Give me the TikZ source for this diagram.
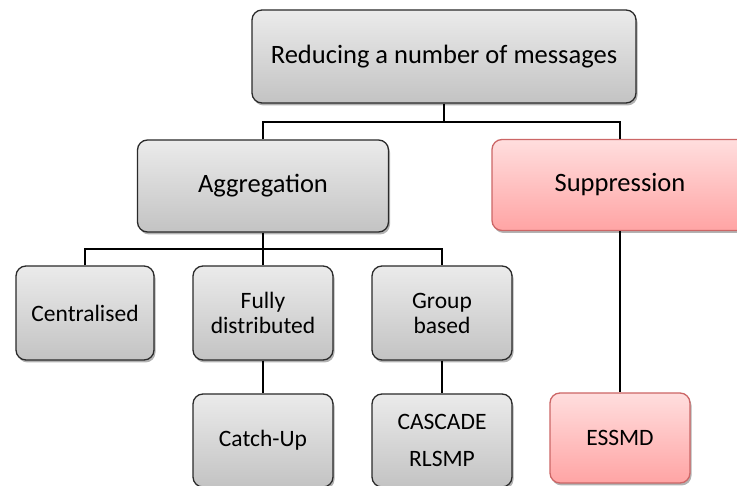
\documentclass[tikz,border=0pt]{standalone}
\usepackage{fontspec}
\setmainfont{Carlito}
\usetikzlibrary{shadows}
\definecolor{greytop}{HTML}{EBEBEB}
\definecolor{greybot}{HTML}{C3C3C3}
\definecolor{greyedge}{HTML}{2A2A2A}
\definecolor{pinktop}{HTML}{FFDEDE}
\definecolor{pinkbot}{HTML}{FFA4A4}
\definecolor{pinkedge}{HTML}{CC6666}
\tikzset{
  box/.style={rectangle, rounded corners=10pt, line width=1.3pt, inner sep=0pt,
    align=center, font=\fontsize{23.5}{25}\selectfont,
    drop shadow={shadow xshift=1.5pt, shadow yshift=-2.5pt, opacity=0.3, fill=black}},
  greybox/.style={box, draw=greyedge, top color=greytop, bottom color=greybot},
  pinkbox/.style={box, draw=pinkedge, top color=pinktop, bottom color=pinkbot},
  big/.style={font=\fontsize{26.5}{31}\selectfont},
  link/.style={line width=1.7pt, black},
}
\begin{document}
\begin{tikzpicture}[x=1pt, y=-1pt]
\useasboundingbox (0,0) rectangle (737,486);
\begin{scope}
\clip (0,0) rectangle (737,486);
% junction points of the two buses
\coordinate (busA) at (444,122);
\coordinate (busB) at (263,249);
\node[greybox, big, minimum width=384pt, minimum height=93pt] (root) at (444,56.5) {Reducing a number of messages};
\node[greybox, big, minimum width=251pt, minimum height=92pt] (agg) at (263,186) {Aggregation};
\node[pinkbox, big, minimum width=256pt, minimum height=91pt] (sup) at (620,185) {Suppression};
\node[greybox, minimum width=138pt, minimum height=94pt] (cen) at (85,313) {Centralised};
\node[greybox, minimum width=140pt, minimum height=94pt] (fd) at (263,313) {Fully\\distributed};
\node[greybox, minimum width=140pt, minimum height=94pt] (gb) at (442,313) {Group\\based};
\node[greybox, minimum width=140pt, minimum height=93pt] (cu) at (263,440.5) {Catch-Up};
\node[greybox, minimum width=140pt, minimum height=93pt, font=\fontsize{23.5}{37}\selectfont] (cr) at (442,440.5) {CASCADE\\RLSMP};
\node[pinkbox, minimum width=140pt, minimum height=90pt] (es) at (620,438) {ESSMD};
\draw[link] (root.south) -- (busA);
\draw[link] (agg.north) |- (busA) -| (sup.north);
\draw[link] (agg.south) -- (fd.north);
\draw[link] (cen.north) |- (busB) -| (gb.north);
\draw[link] (fd.south) -- (cu.north);
\draw[link] (gb.south) -- (cr.north);
\draw[link] (sup.south) -- (es.north);
\end{scope}
\end{tikzpicture}
\end{document}
